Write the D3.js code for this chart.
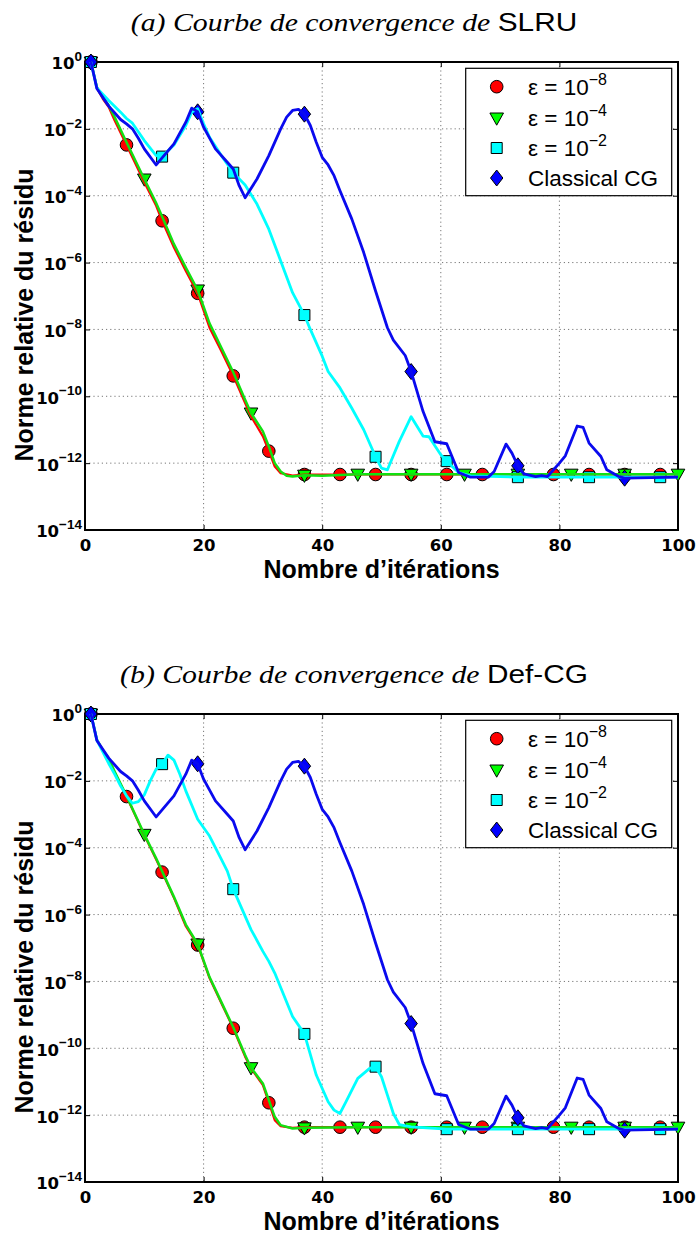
<!DOCTYPE html>
<html>
<head>
<meta charset="utf-8">
<script src="https://cdn.jsdelivr.net/npm/d3@7/dist/d3.min.js"></script>
<style>
  body { margin: 0; background: #fff; }
  svg { display: block; }
</style>
</head>
<body>
<svg id="chart" width="697" height="1236"></svg>
<script>
// svg size and plot box
const width = 697;
const height = 1236;
const plotLeft = 85;
const plotWidth = 593;
const plotHeight = 468;

// tick values (iterations, powers of ten)
const iterTicks = [0, 20, 40, 60, 80, 100];
const expTicks = [0, -2, -4, -6, -8, -10, -12, -14];

// legend entries
const legendLabels = ['ε = 10', 'ε = 10', 'ε = 10', 'Classical CG'];
const legendSups = ['−8', '−4', '−2', ''];

// iterations that carry a marker, per series
const marksEps8 = [1, 7, 13, 19, 25, 31, 37, 43, 49, 55, 61, 67, 73, 79, 85, 91, 97];
const marksEps4 = [1, 10, 19, 28, 37, 46, 55, 64, 73, 82, 91, 100];
const marksEps2 = [1, 13, 25, 37, 49, 61, 73, 85, 97];
const marksCG = [1, 19, 37, 55, 73, 91];

// [iteration, log10 of relative residual norm]
const classicalCG = [
  [1, 0], [2, -0.79], [4, -1.32], [6, -1.72], [7, -1.85], [8, -2.0], [9, -2.28], [10, -2.6],
  [12, -3.08], [15, -2.45], [17, -1.8], [18, -1.38], [19, -1.49], [20, -1.95], [22, -2.6],
  [24, -3.0], [25, -3.2], [26, -3.7], [27, -4.06], [29, -3.5], [31, -2.8], [33, -2.0],
  [34, -1.65], [35, -1.45], [36, -1.42], [37, -1.56], [38, -1.9], [39, -2.4], [40, -2.85],
  [41, -3.08], [42, -3.4], [43, -3.85], [45, -4.7], [47, -5.7], [49, -6.85], [51, -7.95],
  [52, -8.32], [54, -8.78], [55, -9.26], [57, -10.45], [59, -11.36], [61, -11.42], [63, -12.28],
  [65, -12.42], [68, -12.42], [69, -12.25], [71, -11.43], [72, -11.7], [73, -12.08], [74, -12.32],
  [76, -12.4], [77, -12.37], [78, -12.4], [80, -12.0], [81, -11.78], [83, -10.89], [84, -10.93],
  [85, -11.4], [87, -11.8], [88, -12.2], [90, -12.4], [91, -12.45], [100, -12.42]
];

const slruEps8 = [
  [1, 0], [2, -0.78], [3, -1.1], [4, -1.35], [5, -1.75], [7, -2.48], [10, -3.6], [12, -4.3],
  [13, -4.75], [15, -5.55], [17, -6.25], [19, -6.92], [21, -7.95], [23, -8.65], [25, -9.39],
  [27, -10.2], [28, -10.6], [30, -11.2], [31, -11.64], [32, -12.1], [33, -12.3], [35, -12.37],
  [37, -12.34], [43, -12.34], [49, -12.34], [55, -12.34], [61, -12.34], [67, -12.34], [73, -12.34],
  [79, -12.34], [85, -12.34], [91, -12.34], [97, -12.34], [100, -12.34]
];

const slruEps4 = [
  [1, 0], [2, -0.75], [3, -1.05], [4, -1.3], [5, -1.65], [7, -2.4], [10, -3.5], [12, -4.22],
  [13, -4.62], [15, -5.45], [17, -6.15], [19, -6.82], [21, -7.82], [23, -8.55], [25, -9.28],
  [27, -10.1], [28, -10.5], [30, -11.05], [31, -11.5], [32, -12.0], [33, -12.25], [34, -12.38],
  [35, -12.4], [37, -12.36], [40, -12.38], [46, -12.33], [55, -12.33], [64, -12.33], [73, -12.33],
  [82, -12.33], [91, -12.33], [100, -12.33]
];

const slruEps2 = [
  [1, 0], [2, -0.78], [4, -1.15], [6, -1.5], [7, -1.69], [8, -1.83], [10, -2.35], [12, -2.8],
  [13, -2.83], [15, -2.48], [17, -1.9], [18, -1.5], [19, -1.4], [20, -1.85], [21, -2.25],
  [23, -2.8], [25, -3.31], [27, -3.68], [29, -4.25], [31, -5.0], [33, -5.95], [35, -6.9],
  [37, -7.57], [38, -8.0], [40, -8.8], [41, -9.26], [43, -9.75], [45, -10.36], [47, -11.0],
  [49, -11.81], [50, -12.15], [51, -12.2], [53, -11.35], [55, -10.61], [57, -11.19], [58, -11.21],
  [60, -11.75], [61, -11.94], [63, -12.28], [65, -12.38], [73, -12.42], [85, -12.42], [97, -12.42],
  [100, -12.42]
];

const defEps8 = [
  [1, 0], [2, -0.78], [3, -1.1], [4, -1.35], [5, -1.75], [7, -2.47], [10, -3.62], [12, -4.35],
  [13, -4.73], [15, -5.5], [17, -6.35], [19, -6.91], [21, -7.9], [23, -8.65], [25, -9.4],
  [27, -10.25], [28, -10.6], [30, -11.1], [31, -11.63], [32, -12.15], [33, -12.33], [35, -12.38],
  [37, -12.36], [43, -12.36], [49, -12.36], [55, -12.36], [61, -12.36], [67, -12.36], [73, -12.36],
  [79, -12.36], [85, -12.36], [91, -12.36], [97, -12.36], [100, -12.36]
];

const defEps4 = [
  [1, 0], [2, -0.77], [3, -1.08], [4, -1.33], [5, -1.72], [7, -2.45], [10, -3.6], [12, -4.32],
  [13, -4.7], [15, -5.47], [17, -6.3], [19, -6.88], [21, -7.87], [23, -8.62], [25, -9.37],
  [27, -10.2], [28, -10.58], [30, -11.05], [31, -11.55], [32, -12.05], [33, -12.3], [35, -12.4],
  [37, -12.38], [46, -12.36], [55, -12.36], [64, -12.36], [73, -12.36], [82, -12.36], [91, -12.36],
  [100, -12.36]
];

const defEps2 = [
  [1, 0], [2, -0.78], [4, -1.48], [5, -1.8], [6, -2.15], [7, -2.45], [8, -2.67], [9, -2.62],
  [10, -2.42], [11, -2.0], [12, -1.65], [13, -1.5], [14, -1.23], [15, -1.38], [16, -1.8],
  [17, -2.3], [19, -3.15], [21, -3.65], [23, -4.35], [24, -4.7], [25, -5.24], [28, -6.45],
  [30, -7.1], [31, -7.4], [32, -7.75], [35, -9.05], [37, -9.57], [39, -10.8], [41, -11.6],
  [42, -11.85], [43, -11.95], [44, -11.6], [46, -10.9], [48, -10.6], [49, -10.55], [50, -10.85],
  [51, -11.4], [52, -11.95], [53, -12.28], [55, -12.35], [61, -12.42], [73, -12.42], [85, -12.42],
  [97, -12.42], [100, -12.42]
];

const fills = ['#ff0000', '#00ff00', '#00ffff', '#0000ff'];
const lineColors = ['#ff0000', '#12e012', '#00ffff', '#0a0aee'];
const lineWidths = [2.2, 2.5, 2.8, 2.8];
const shapes = ['circle', 'triangle', 'square', 'diamond'];
const markLists = [marksEps8, marksEps4, marksEps2, marksCG];

const panels = [
  { top: 62, title: '(a) Courbe de convergence de ', method: 'SLRU',
    series: [slruEps8, slruEps4, slruEps2, classicalCG] },
  { top: 714, title: '(b) Courbe de convergence de ', method: 'Def-CG',
    series: [defEps8, defEps4, defEps2, classicalCG] }
];

const sansBold = '"Liberation Sans", Arial, sans-serif';
const tickFont = '"DejaVu Sans", sans-serif';

const svg = d3.select('#chart');

const x = d3.scaleLinear()
            .domain([0, 100])
            .range([0, plotWidth]);

const y = d3.scaleLog()
            .domain([1e-14, 1])
            .range([plotHeight, 0]);

const line = d3.line()
               .x(d => x(d[0]))
               .y(d => y(Math.pow(10, d[1])));

function markerPath(shape) {
  if (shape === 'circle') return d3.symbol(d3.symbolCircle, Math.PI * 6.3 * 6.3)();
  if (shape === 'triangle') return 'M-6.8,-5L6.8,-5L0,7.2Z';
  if (shape === 'square') return 'M-5.5,-5.5H5.5V5.5H-5.5Z';
  return 'M0,-8L6.2,0L0,8L-6.2,0Z';
}

const titleNodes = [];

panels.forEach(p => drawPanel(p));

// stretch titles to the width of the LaTeX caption
const wB = titleNodes[1].node().getBBox().width;
const k = 468 / wB;
titleNodes.forEach((t, i) => {
  t.attr('transform', 'translate(354,' + (panels[i].top - 31) + ') scale(' + k + ',1)');
});

function drawPanel(p) {
  const g = svg.append('g')
               .attr('transform', 'translate(' + plotLeft + ',' + p.top + ')');

  // title
  const title = svg.append('text')
                   .attr('text-anchor', 'middle')
                   .attr('font-size', 26);
  title.append('tspan')
       .attr('font-family', '"Liberation Serif", serif')
       .attr('font-style', 'italic')
       .text(p.title);
  title.append('tspan')
       .attr('font-family', '"Liberation Sans", sans-serif')
       .text(p.method);
  titleNodes.push(title);

  // grid
  g.append('g')
   .selectAll('line')
   .data(iterTicks.filter(d => d > 0 && d < 100))
   .enter().append('line')
   .attr('x1', d => x(d)).attr('x2', d => x(d))
   .attr('y1', 0).attr('y2', plotHeight)
   .attr('stroke', '#777').attr('stroke-width', 1)
   .attr('stroke-dasharray', '1.2,3');

  g.append('g')
   .selectAll('line')
   .data(expTicks.filter(d => d < 0 && d > -14))
   .enter().append('line')
   .attr('x1', 0).attr('x2', plotWidth)
   .attr('y1', d => y(Math.pow(10, d))).attr('y2', d => y(Math.pow(10, d)))
   .attr('stroke', '#777').attr('stroke-width', 1)
   .attr('stroke-dasharray', '1.2,3');

  // axes with inward ticks
  const xAxis = d3.axisBottom(x).tickValues(iterTicks).tickSize(-5).tickSizeOuter(0).tickPadding(9);
  const xTop = d3.axisTop(x).tickValues(iterTicks).tickSize(-5).tickSizeOuter(0).tickFormat('');
  const yVals = expTicks.map(e => Math.pow(10, e));
  const yAxis = d3.axisLeft(y).tickValues(yVals).tickSize(-5).tickSizeOuter(0).tickPadding(3);
  const yRight = d3.axisRight(y).tickValues(yVals).tickSize(-5).tickSizeOuter(0).tickFormat('');

  const gx = g.append('g').attr('transform', 'translate(0,' + plotHeight + ')').call(xAxis);
  g.append('g').call(xTop);
  const gy = g.append('g').call(yAxis);
  g.append('g').attr('transform', 'translate(' + plotWidth + ',0)').call(yRight);

  g.selectAll('.domain').remove();
  g.selectAll('.tick line').attr('stroke', '#000').attr('stroke-width', 1);

  gx.selectAll('text')
    .attr('font-family', tickFont)
    .attr('font-weight', 'bold')
    .attr('font-size', 16.5)
    .attr('fill', '#000');

  gy.selectAll('text')
    .attr('font-family', tickFont)
    .attr('font-weight', 'bold')
    .attr('font-size', 16.5)
    .attr('fill', '#000')
    .attr('dy', '0.42em')
    .each(function(d) {
      const t = d3.select(this);
      const e = Math.round(Math.log10(d));
      t.text(null);
      t.append('tspan').text('10');
      t.append('tspan')
       .attr('font-family', sansBold)
       .attr('font-size', 13.5)
       .attr('dy', -8.5)
       .text(e === 0 ? '0' : '−' + Math.abs(e));
    });

  // frame
  g.append('rect')
   .attr('x', 0).attr('y', 0)
   .attr('width', plotWidth).attr('height', plotHeight)
   .attr('fill', 'none')
   .attr('stroke', '#000')
   .attr('stroke-width', 2);

  // markers first, then the lines over them
  p.series.forEach((s, i) => {
    const marks = s.filter(d => markLists[i].includes(d[0]));
    g.append('g')
     .selectAll('path')
     .data(marks)
     .enter().append('path')
     .attr('transform', d => 'translate(' + x(d[0]) + ',' + y(Math.pow(10, d[1])) + ')')
     .attr('d', markerPath(shapes[i]))
     .attr('fill', fills[i])
     .attr('stroke', '#000')
     .attr('stroke-width', 1);
  });

  p.series.forEach((s, i) => {
    g.append('path')
     .datum(s)
     .attr('d', line)
     .attr('fill', 'none')
     .attr('stroke', lineColors[i])
     .attr('stroke-width', lineWidths[i])
     .attr('stroke-linejoin', 'round');
  });

  // axis titles
  svg.append('text')
     .attr('transform', 'translate(33,' + (p.top + plotHeight / 2 + 19) + ') rotate(-90)')
     .attr('text-anchor', 'middle')
     .attr('font-family', sansBold)
     .attr('font-weight', 'bold')
     .attr('font-size', 25)
     .text('Norme relative du résidu');

  svg.append('text')
     .attr('x', plotLeft + plotWidth / 2)
     .attr('y', p.top + plotHeight + 47.5)
     .attr('text-anchor', 'middle')
     .attr('font-family', sansBold)
     .attr('font-weight', 'bold')
     .attr('font-size', 25)
     .text('Nombre d\u2019itérations');

  drawLegend(g);
}

function drawLegend(g) {
  const rows = [18.4, 49.7, 79.7, 109.7];
  const legend = g.append('g')
                  .attr('transform', 'translate(380.7,6.3)');

  legend.append('rect')
        .attr('width', 206)
        .attr('height', 127.4)
        .attr('fill', '#fff')
        .attr('stroke', '#000')
        .attr('stroke-width', 1.2);

  legendLabels.forEach((label, i) => {
    legend.append('path')
          .attr('transform', 'translate(31,' + rows[i] + ')')
          .attr('d', markerPath(shapes[i]))
          .attr('fill', fills[i])
          .attr('stroke', '#000')
          .attr('stroke-width', 1);

    const t = legend.append('text')
                    .attr('x', 62.3)
                    .attr('y', rows[i] + 8.3)
                    .attr('font-family', '"Liberation Sans", Arial, sans-serif')
                    .attr('font-size', 22.5)
                    .attr('fill', '#000');
    t.append('tspan').text(label);
    if (legendSups[i]) {
      t.append('tspan')
       .attr('font-size', 16)
       .attr('dy', -10)
       .text(legendSups[i]);
    }
  });
}
</script>
</body>
</html>
